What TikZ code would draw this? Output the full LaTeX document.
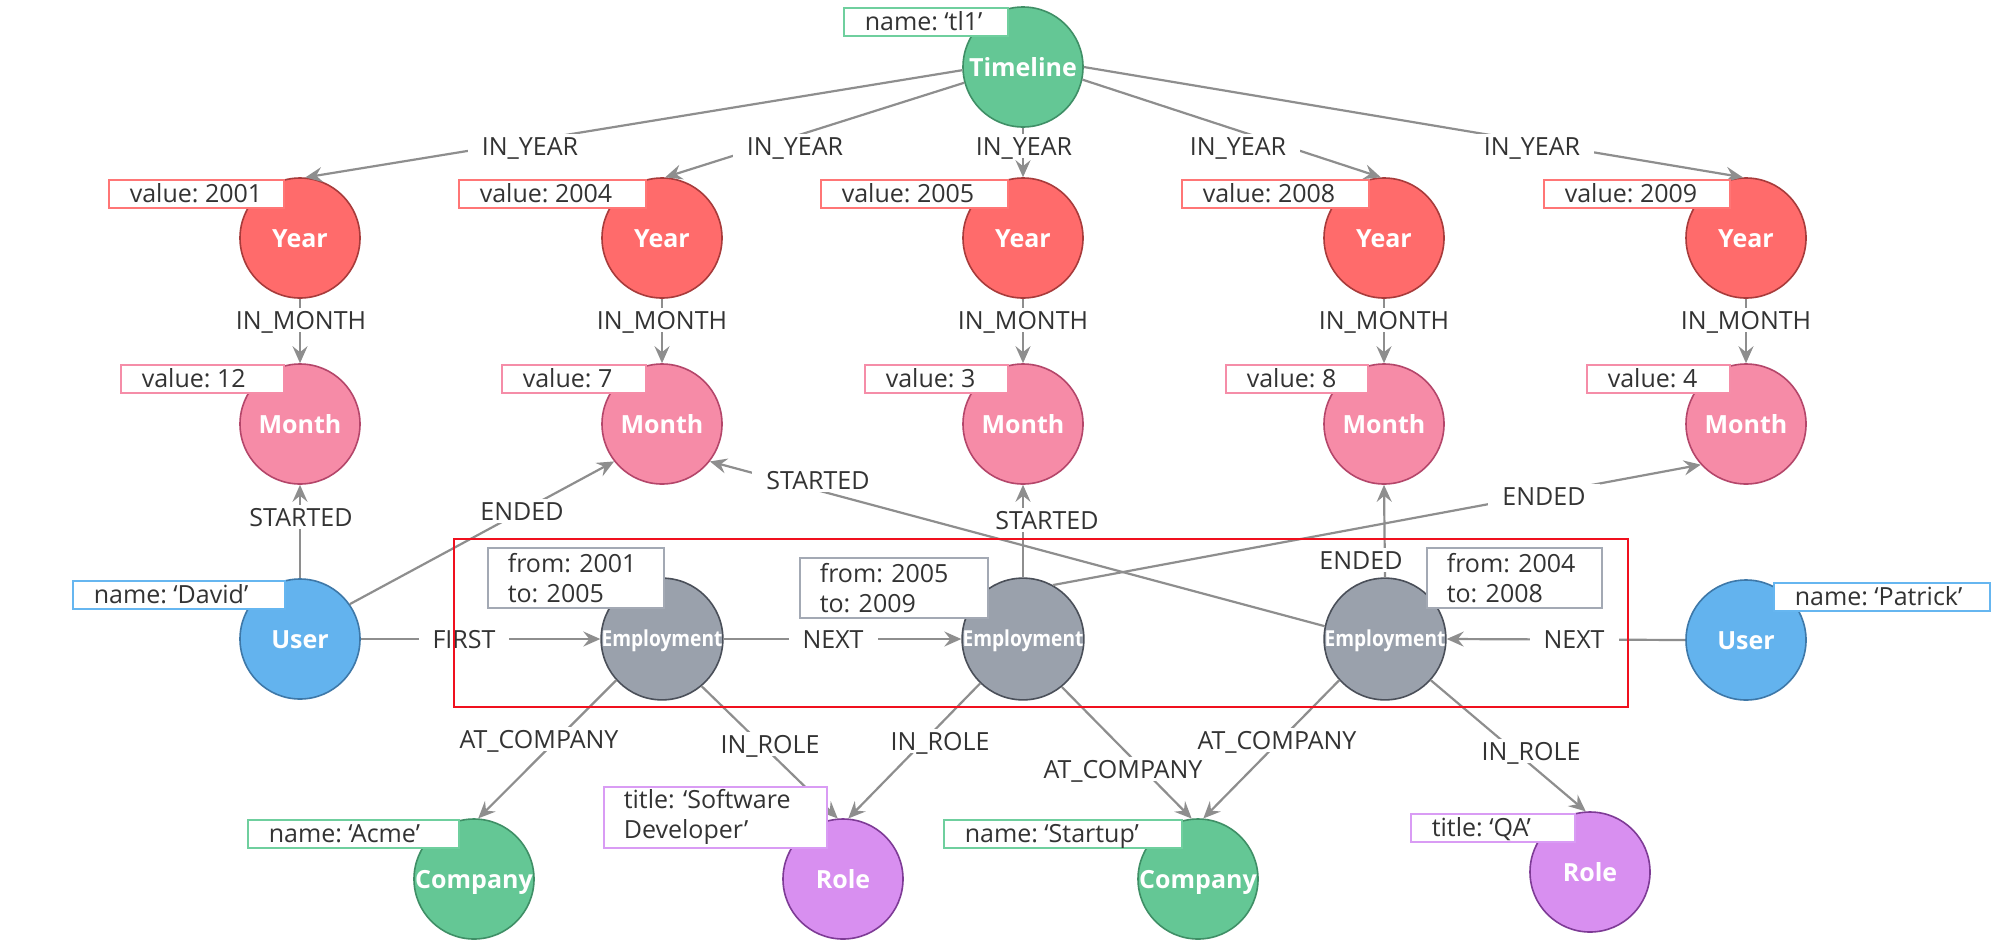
\documentclass[tikz,border=0pt]{standalone}
\usepackage{fontspec}
\setmainfont{Open Sans}
\usetikzlibrary{arrows.meta}
\definecolor{edgec}{HTML}{8E8E8E}
\definecolor{txt}{HTML}{333333}
\definecolor{grnF}{HTML}{64C795}
\definecolor{grnD}{HTML}{3F8F66}
\definecolor{grnB}{HTML}{6FCF9E}
\definecolor{yrF}{HTML}{FF6B6B}
\definecolor{yrD}{HTML}{A83B3B}
\definecolor{yrB}{HTML}{FF7676}
\definecolor{moF}{HTML}{F68BA7}
\definecolor{moD}{HTML}{B4466A}
\definecolor{moB}{HTML}{F58DA8}
\definecolor{usF}{HTML}{63B3EE}
\definecolor{usD}{HTML}{3E78A8}
\definecolor{usB}{HTML}{66B6F0}
\definecolor{emF}{HTML}{9AA1AC}
\definecolor{emD}{HTML}{4A4F59}
\definecolor{emB}{HTML}{A3A9B4}
\definecolor{roF}{HTML}{D88FF0}
\definecolor{roD}{HTML}{7E3B96}
\definecolor{roB}{HTML}{D99CF4}
\definecolor{frame}{HTML}{F0101E}
\newcommand\ptxt[2]{\makebox[#1pt][l]{\hspace{21pt}#2}}
\begin{document}
\frenchspacing
\begin{tikzpicture}[x=1pt,y=-1pt,
  ent/.style={circle, minimum size=120pt, inner sep=0pt, line width=1.6pt, text=white,
    font=\fontsize{25}{25}\selectfont\bfseries, text height=18pt, text depth=0pt},
  edge/.style={draw=edgec, line width=2.2pt, -{Stealth[length=17pt,width=15pt,inset=6pt]}},
  lab/.style={fill=white, text=txt, font=\fontsize{25}{30}\selectfont, inner xsep=14pt,
    inner ysep=3pt, text height=18pt, text depth=0pt},
  prop/.style={fill=white, text=txt, font=\fontsize{25}{30}\selectfont, line width=1.6pt,
    anchor=north west, inner xsep=0pt, inner ysep=0pt, minimum height=28pt,
    text height=18pt, text depth=0pt},
  proptwo/.style={fill=white, text=txt, font=\fontsize{25}{30}\selectfont, line width=1.6pt,
    anchor=north west, align=left, inner xsep=20pt, inner ysep=0pt, minimum height=60pt}
]
\useasboundingbox[fill=white] (0,0) rectangle (1992,946);

% entity nodes
\node[ent, fill=grnF, draw=grnD] (tl) at (1023,67) {Timeline};
\node[ent, fill=yrF, draw=yrD] (y1) at (300,238) {Year};
\node[ent, fill=yrF, draw=yrD] (y2) at (662,238) {Year};
\node[ent, fill=yrF, draw=yrD] (y3) at (1023,238) {Year};
\node[ent, fill=yrF, draw=yrD] (y4) at (1384,238) {Year};
\node[ent, fill=yrF, draw=yrD] (y5) at (1746,238) {Year};
\node[ent, fill=moF, draw=moD] (m1) at (300,424) {Month};
\node[ent, fill=moF, draw=moD] (m2) at (662,424) {Month};
\node[ent, fill=moF, draw=moD] (m3) at (1023,424) {Month};
\node[ent, fill=moF, draw=moD] (m4) at (1384,424) {Month};
\node[ent, fill=moF, draw=moD] (m5) at (1746,424) {Month};
\node[ent, fill=usF, draw=usD] (u1) at (300,639) {User};
\node[ent, fill=usF, draw=usD] (u2) at (1746,640) {User};
\node[ent, fill=emF, draw=emD, text height=15.7pt] (e1) at (662,639) {\fontsize{22}{22}\selectfont\scalebox{0.87}[1]{Employment}};
\node[ent, fill=emF, draw=emD, text height=15.7pt] (e2) at (1023,639) {\fontsize{22}{22}\selectfont\scalebox{0.87}[1]{Employment}};
\node[ent, fill=emF, draw=emD, text height=15.7pt] (e3) at (1385,639) {\fontsize{22}{22}\selectfont\scalebox{0.87}[1]{Employment}};
\node[ent, fill=grnF, draw=grnD] (c1) at (474,879) {Company};
\node[ent, fill=roF, draw=roD] (r1) at (843,879) {Role};
\node[ent, fill=grnF, draw=grnD] (c2) at (1198,879) {Company};
\node[ent, fill=roF, draw=roD] (r2) at (1590,872) {Role};

% edges
\draw[edge] (tl.183) -- (y1.85);
\draw[edge] (tl.195) -- (y2.87);
\draw[edge] (tl.270) -- (y3.90);
\draw[edge] (tl.348) -- (y4.93);
\draw[edge] (tl.0) -- (y5.93);
\node[lab] (l1) at (530,146) {IN\_YEAR};
\node[lab] (l2) at (795,146) {IN\_YEAR};
\node[lab] (l3) at (1024,146) {IN\_YEAR};
\node[lab] (l4) at (1238,146) {IN\_YEAR};
\node[lab] (l5) at (1532,146) {IN\_YEAR};

\draw[edge] (y1.270) -- (m1.90);
\draw[edge] (y2.270) -- (m2.90);
\draw[edge] (y3.270) -- (m3.90);
\draw[edge] (y4.270) -- (m4.90);
\draw[edge] (y5.270) -- (m5.90);
\node[lab] (k1) at (301,320) {IN\_MONTH};
\node[lab] (k2) at (662,320) {IN\_MONTH};
\node[lab] (k3) at (1023,320) {IN\_MONTH};
\node[lab] (k4) at (1384,320) {IN\_MONTH};
\node[lab] (k5) at (1746,320) {IN\_MONTH};

\draw[edge] (u1.90) -- (m1.270);
\node[lab] (s1) at (301,517) {STARTED};
\draw[edge] (u1.35) -- (m2.218);
\node[lab] (d1) at (522,511) {ENDED};
\draw[edge] (e3.168) -- (m2.322);
\node[lab] (s3) at (818,480) {STARTED};
\draw[edge] (e2.90) -- (m3.270);
\node[lab] (s2) at (1047,520) {STARTED};
\draw[edge] (e2.61) -- (m5.222);
\node[lab] (d2) at (1544,496) {ENDED};
\draw[edge] (e3.90) -- (m4.270);
\node[lab] (d3) at (1361,560) {ENDED};

\draw[edge] (u1.0) -- (e1.180);
\node[lab] (f1) at (464,639) {FIRST};
\draw[edge] (e1.0) -- (e2.180);
\node[lab] (n1) at (833,639) {NEXT};
\draw[edge] (u2.180) -- (e3.0);
\node[lab] (n2) at (1574,639) {NEXT};

\draw[edge] (e1.222) -- (c1.86);
\node[lab] (a1) at (539,739) {AT\_COMPANY};
\draw[edge] (e1.310) -- (r1.95);
\node[lab] (i1) at (770,744) {IN\_ROLE};
\draw[edge] (e2.226) -- (r1.85);
\node[lab] (i2) at (940,741) {IN\_ROLE};
\draw[edge] (e2.309) -- (c2.96);
\node[lab] (a2) at (1123,769) {AT\_COMPANY};
\draw[edge] (e3.222) -- (c2.85);
\node[lab] (a3) at (1277,740) {AT\_COMPANY};
\draw[edge] (e3.318) -- (r2.94);
\node[lab] (i3) at (1531,751) {IN\_ROLE};

% property boxes
\node[prop, draw=grnB] (ptl) at (843,7) {\ptxt{164}{name: ‘tl1’}};
\node[prop, draw=yrB] (py1) at (108,179) {\ptxt{175}{value: 2001}};
\node[prop, draw=yrB] (py2) at (458,179) {\ptxt{187}{value: 2004}};
\node[prop, draw=yrB] (py3) at (820,179) {\ptxt{187}{value: 2005}};
\node[prop, draw=yrB] (py4) at (1181,179) {\ptxt{187}{value: 2008}};
\node[prop, draw=yrB] (py5) at (1543,179) {\ptxt{186}{value: 2009}};
\node[prop, draw=moB] (pm1) at (120,364) {\ptxt{163}{value: 12}};
\node[prop, draw=moB] (pm2) at (501,364) {\ptxt{144}{value: 7}};
\node[prop, draw=moB] (pm3) at (864,364) {\ptxt{143}{value: 3}};
\node[prop, draw=moB] (pm4) at (1225,364) {\ptxt{142}{value: 8}};
\node[prop, draw=moB] (pm5) at (1586,364) {\ptxt{143}{value: 4}};
\node[prop, draw=usB] (pu1) at (72,580) {\ptxt{212}{name: ‘David’}};
\node[prop, draw=usB] (pu2) at (1773,582) {\ptxt{216}{name: ‘Patrick’}};
\node[proptwo, draw=emB, text width=136pt] (pe1) at (487,547) {from: 2001\\to: 2005};
\node[proptwo, draw=emB, text width=148pt] (pe2) at (799,557) {from: 2005\\to: 2009};
\node[proptwo, draw=emB, text width=135pt] (pe3) at (1426,547) {from: 2004\\to: 2008};
\node[prop, draw=grnB] (pc1) at (247,819) {\ptxt{211}{name: ‘Acme’}};
\node[proptwo, draw=roB, text width=183pt, minimum height=61pt] (pr1) at (603,786) {title: ‘Software\\Developer’};
\node[prop, draw=grnB] (pc2) at (943,819) {\ptxt{238}{name: ‘Startup’}};
\node[prop, draw=roB] (pr2) at (1410,813) {\ptxt{164}{title: ‘QA’}};

% highlight frame
\draw[frame, line width=2pt] (454,539) rectangle (1628,707);
\end{tikzpicture}
\end{document}
